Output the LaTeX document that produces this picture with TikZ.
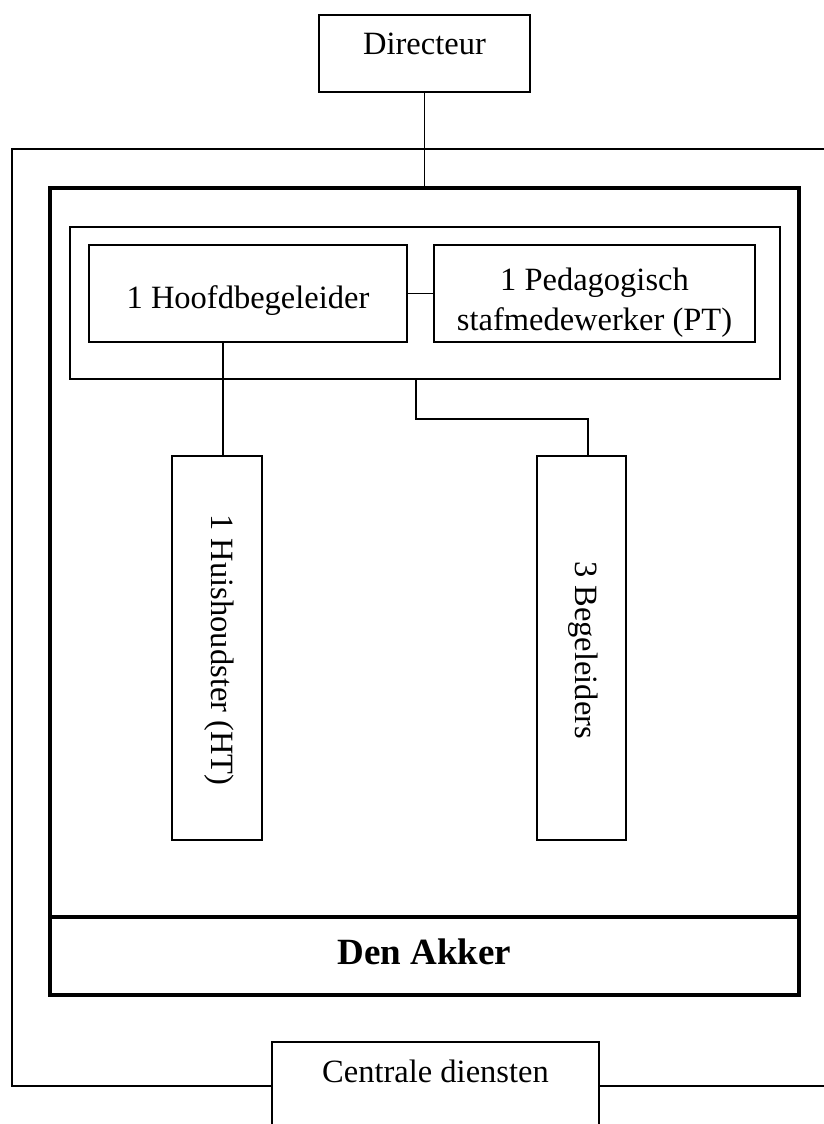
\documentclass[tikz,border=0pt]{standalone}
\usepackage{fontspec}
\setmainfont{Liberation Serif}
\begin{document}
\begin{tikzpicture}[x=1pt,y=-1pt,
  box/.style={draw, line width=1.8pt, rectangle, inner sep=0pt, outer sep=0pt},
  thickbox/.style={draw, line width=3.6pt, rectangle, inner sep=0pt, outer sep=0pt},
  conn/.style={line width=1.8pt},
  thickline/.style={line width=3.6pt},
  lbl/.style={font=\fontsize{32.5}{38}\selectfont, inner sep=0pt, anchor=base},
  rlbl/.style={font=\fontsize{32.5}{38}\selectfont, inner sep=0pt, rotate=-90},
  boldlbl/.style={font=\fontsize{37}{42}\selectfont\bfseries, inner sep=0pt, anchor=base}]
\useasboundingbox (0,0) rectangle (824,1124);

% boxes
\node[box, minimum width=211pt, minimum height=77pt] (dir) at (424.5,53.5) {};
\node[thickbox, minimum width=749pt, minimum height=807pt] (akker) at (424.5,591.5) {};
\node[box, minimum width=710pt, minimum height=152pt] (grp) at (425,303) {};
\node[box, minimum width=318pt, minimum height=97pt] (hoofd) at (248,293.5) {};
\node[box, minimum width=321pt, minimum height=97pt] (pt) at (594.5,293.5) {};
\node[box, minimum width=90pt, minimum height=384pt] (ht) at (217,648) {};
\node[box, minimum width=89pt, minimum height=384pt] (beg) at (581.5,648) {};
\node[box, minimum width=327pt, minimum height=120pt] (cen) at (435.5,1102) {};

% texts
\node[lbl] (tdir) at (424.5,55) {Directeur};
\node[lbl] (thoofd) at (248,308) {1 Hoofdbegeleider};
\node[lbl] (tpt1) at (594.5,290) {1 Pedagogisch};
\node[lbl] (tpt2) at (594.5,330) {stafmedewerker (PT)};
\node[rlbl] (tht) at (219,650) {1 Huishoudster (HT)};
\node[rlbl] (tbeg) at (583,650) {3 Begeleiders};
\node[boldlbl] (takker) at (424.5,964) {Den Akker};
\node[lbl] (tcen) at (435.5,1082) {Centrale diensten};

% helper coordinates
\coordinate (divy) at (0,917);
\coordinate (otl) at (12,149);
\coordinate (otr) at (824,149);
\coordinate (obl) at (12,1086);
\coordinate (obr) at (824,1086);
\coordinate (la) at (223,0);
\coordinate (j1) at (416,419);
\coordinate (j2) at (588,419);

% divider in Den Akker box
\draw[thickline] (akker.west |- divy) -- (akker.east |- divy);

% outer frame
\draw[conn] (cen.west |- obl) -- (obl) -- (otl) -- (otr);
\draw[conn] (cen.east |- obr) -- (obr);

% connectors
\draw[conn] (dir.south) -- (dir.south |- akker.north);
\draw[conn] (hoofd.east) -- (pt.west);
\draw[conn] (hoofd.south -| la) -- (ht.north -| la);
\draw[conn] (grp.south -| j1) -- (j1) -- (j2) -- (beg.north -| j2);
\end{tikzpicture}
\end{document}
